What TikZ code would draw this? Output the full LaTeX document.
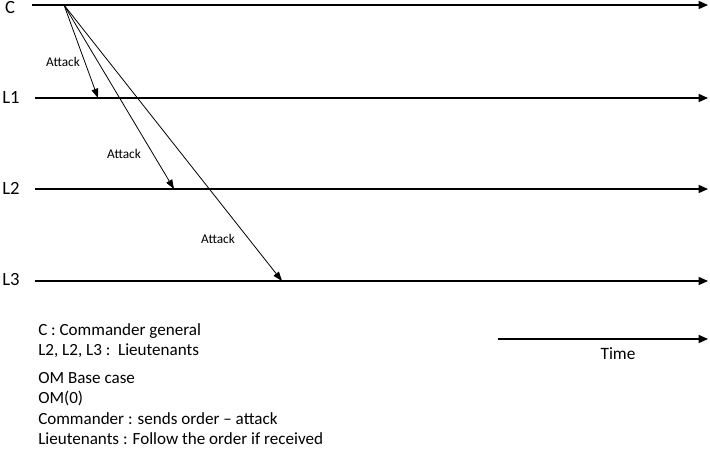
\documentclass[tikz,border=0pt]{standalone}
\usepackage{fontspec}
\setmainfont{Carlito}
\usetikzlibrary{arrows.meta}

\begin{document}
\begin{tikzpicture}[x=0.75pt, y=-0.75pt,
    timeline/.style={-{Triangle[length=7pt,width=6pt]}, line width=1pt},
    msg/.style={-{Triangle[length=7pt,width=5pt]}, line width=0.6pt},
    proc/.style={font=\fontsize{14}{16}\selectfont},
    msglabel/.style={font=\fontsize{10}{12}\selectfont}]

    \useasboundingbox (0,0) rectangle (710,452);

    % Process names
    \node[proc] (C) at (10,8) {C};
    \node[proc] (L1) at (11,97) {L1};
    \node[proc] (L2) at (11,188) {L2};
    \node[proc] (L3) at (11,280) {L3};

    % Time lines
    \coordinate (Cs) at (32,5);   \coordinate (Ce) at (708,5);
    \coordinate (L1s) at (35,98); \coordinate (L1e) at (708,98);
    \coordinate (L2s) at (35,189); \coordinate (L2e) at (708,189);
    \coordinate (L3s) at (35,281); \coordinate (L3e) at (708,281);
    \draw[timeline] (Cs) -- (Ce);
    \draw[timeline] (L1s) -- (L1e);
    \draw[timeline] (L2s) -- (L2e);
    \draw[timeline] (L3s) -- (L3e);

    % Orders sent by the commander
    \coordinate (send) at (64,5);
    \coordinate (r1) at (98,98);
    \coordinate (r2) at (174,189);
    \coordinate (r3) at (282,281);
    \draw[msg] (send) -- (r1);
    \draw[msg] (send) -- (r2);
    \draw[msg] (send) -- (r3);
    \node[msglabel] (a1) at (63,62) {Attack};
    \node[msglabel] (a2) at (124,154) {Attack};
    \node[msglabel] (a3) at (218,239) {Attack};

    % Time axis
    \coordinate (Ts) at (498,339);
    \coordinate (Te) at (708,339);
    \draw[timeline] (Ts) -- (Te);
    \node[font=\fontsize{13}{15}\selectfont] (T) at (618,354) {Time};

    % Legend
    \node[anchor=north west, align=left, inner sep=0pt,
          font=\fontsize{12.8}{15.2}\selectfont] (legend) at (38,323) {
        C : Commander general\\
        L2, L2, L3 :\ \ Lieutenants\\[6pt]
        OM Base case\\
        OM(0)\\
        Commander : sends order -- attack\\
        Lieutenants : Follow the order if received
    };

\end{tikzpicture}
\end{document}
